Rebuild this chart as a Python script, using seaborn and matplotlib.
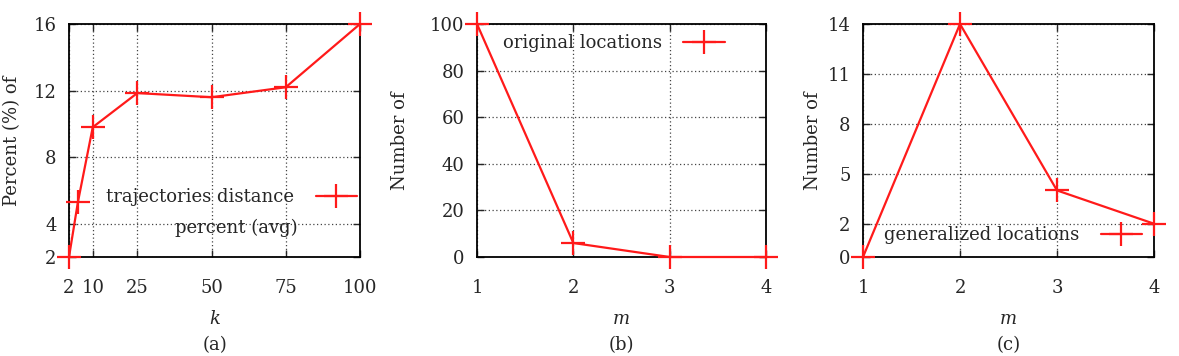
import numpy as np
import pandas as pd
import matplotlib
matplotlib.use("Agg")
import matplotlib.pyplot as plt
import seaborn as sns

# ---- data ----
k_values = [2, 5, 10, 25, 50, 75, 100]
traj_percent = [2.0, 5.3, 9.8, 11.85, 11.6, 12.2, 16.0]
a_xticks = [2, 10, 25, 50, 75, 100]
a_yticks = [2, 4, 8, 12, 16]

m_values = [1, 2, 3, 4]
original_locs = [100, 6, 0, 0]
b_yticks = [0, 20, 40, 60, 80, 100]

generalized_locs = [0, 14, 4, 2]
c_yticks = [0, 2, 5, 8, 11, 14]

sns.set_style("ticks")
plt.rcParams['font.family'] = ['DejaVu Serif']
plt.rcParams['font.size'] = 13

RED = '#ff1a1a'
FS = 13
W, H = 1179, 356
fig = plt.figure(figsize=(W / 100, H / 100), dpi=100)


def px_axes(x0, x1, y0, y1):
    return fig.add_axes([x0 / W, 1 - y1 / H, (x1 - x0) / W, (y1 - y0) / H])


def style(ax, xticks, yticks, xlim, ylim, xlabel, ylabel, ylabel_x):
    ax.set_xlim(*xlim)
    ax.set_ylim(*ylim)
    ax.set_xticks(xticks)
    ax.set_yticks(yticks)
    ax.tick_params(direction='in', top=True, right=True, length=5, width=1,
                   labelsize=FS)
    ax.tick_params(axis='x', pad=16)
    ax.tick_params(axis='y', pad=9)
    ax.grid(True, linestyle=(0, (1, 2)), color='#444444', linewidth=0.9)
    for s in ax.spines.values():
        s.set_linewidth(1.3)
        s.set_color('black')
    ax.set_xlabel(xlabel, fontstyle='italic', fontsize=FS, labelpad=9)
    ax.set_ylabel(ylabel, fontsize=FS)
    ax.yaxis.set_label_coords(ylabel_x, 0.5)


def legend(ax, anchor):
    leg = ax.legend(loc='center right', bbox_to_anchor=anchor, frameon=False,
                    markerfirst=False, borderpad=0, borderaxespad=0,
                    handlelength=2.3, handletextpad=1.2, fontsize=FS)
    return leg


line_kw = dict(color=RED, marker='+', markersize=17, markeredgewidth=1.6,
               markeredgecolor=RED, markerfacecolor=RED, linewidth=1.6,
               clip_on=False, zorder=5)

# (a)
ax1 = px_axes(69, 360, 24, 257)
df_a = pd.DataFrame({'k': k_values, 'pct': traj_percent})
sns.lineplot(data=df_a, x='k', y='pct', ax=ax1,
             label='trajectories distance', **line_kw)
style(ax1, a_xticks, a_yticks, (2, 100), (2, 16), 'k', 'Percent (%) of', -0.165)
legend(ax1, (0.99, 0.258))
ax1.text(0.787, 0.124, 'percent (avg)', transform=ax1.transAxes,
         ha='right', va='center', fontsize=FS)

# (b)
ax2 = px_axes(477, 766, 24, 257)
df_b = pd.DataFrame({'m': m_values, 'n': original_locs})
sns.lineplot(data=df_b, x='m', y='n', ax=ax2,
             label='original locations', **line_kw)
style(ax2, m_values, b_yticks, (1, 4), (0, 100), 'm', 'Number of', -0.235)
legend(ax2, (0.858, 0.918))

# (c)
ax3 = px_axes(863, 1154, 24, 257)
df_c = pd.DataFrame({'m': m_values, 'n': generalized_locs})
sns.lineplot(data=df_c, x='m', y='n', ax=ax3,
             label='generalized locations', **line_kw)
style(ax3, m_values, c_yticks, (1, 4), (0, 14), 'm', 'Number of', -0.14)
legend(ax3, (0.959, 0.094))

# captions
for ax, cap in [(ax1, '(a)'), (ax2, '(b)'), (ax3, '(c)')]:
    bb = ax.get_position()
    fig.text((bb.x0 + bb.x1) / 2, 2 / H, cap, ha='center', va='bottom',
             fontsize=FS)

fig.savefig('out.png', dpi=100)
